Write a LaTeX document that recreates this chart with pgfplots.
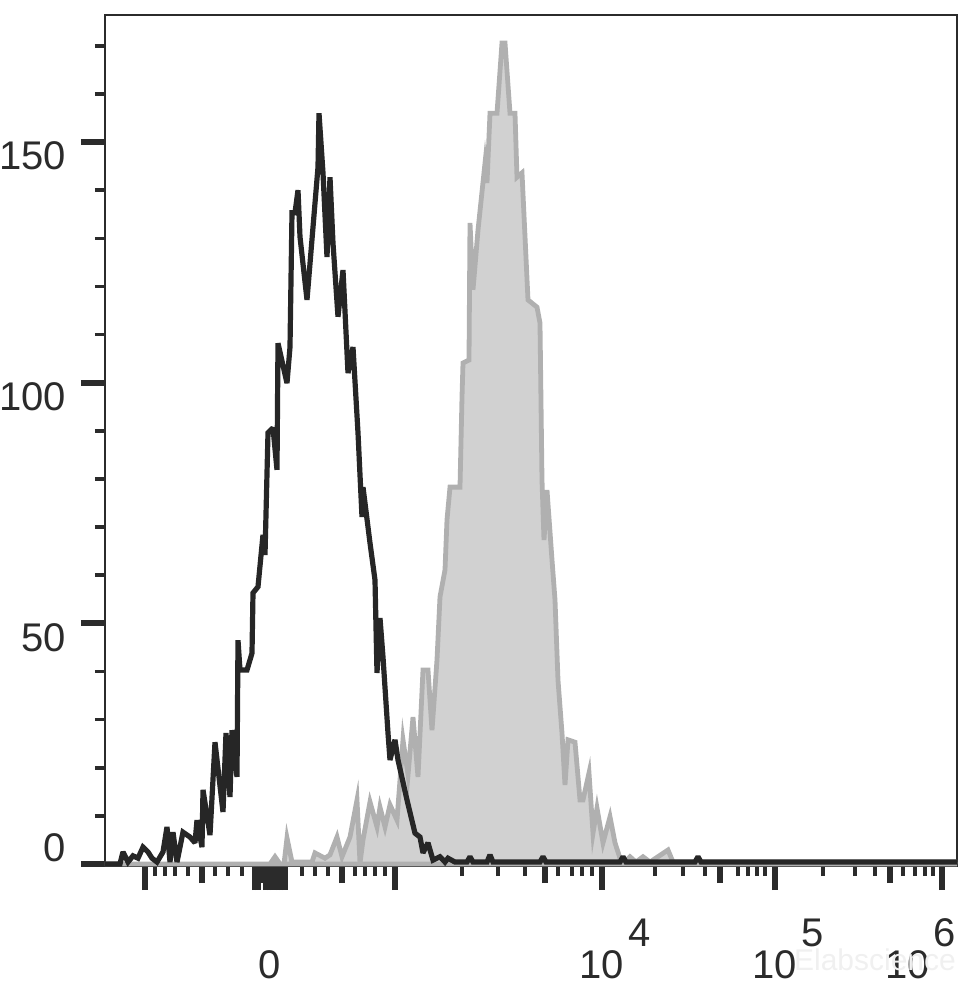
\documentclass[border=0pt]{standalone}
\usepackage{fontspec}
\setmainfont{Liberation Sans}
\usepackage{pgfplots}
\pgfplotsset{compat=1.18}
\definecolor{ax}{HTML}{2B2B2B}
\definecolor{grayfill}{HTML}{D1D1D1}
\definecolor{grayline}{HTML}{B0B0B0}
\definecolor{blk}{HTML}{262626}
\newcommand{\dec}[1]{10\rlap{\hspace{2pt}\raisebox{16pt}{#1}}}
\begin{document}
\begin{tikzpicture}
\begin{axis}[
  at={(0,0)}, anchor=south west,
  scale only axis, width=426pt, height=425.5pt,
  xmin=105, xmax=957, ymin=-0.42, ymax=176.4,
  axis line style={draw=ax, line width=1pt},
  tick align=outside,
  xtick pos=left, ytick pos=left,
  major tick length=12pt, minor tick length=5pt,
  major tick style={line width=3pt, draw=ax},
  minor tick style={line width=1.8pt, draw=ax},
  ytick={50,100,150}, yticklabels={50,100,150},
  minor ytick={10,20,30,40,60,70,80,90,110,120,130,140,160,170},
  extra y ticks={0}, extra y tick labels={0},
  extra y tick style={yticklabel style={yshift=15pt}},
  yticklabel style={font=\fontsize{20}{24}\selectfont, text=ax, yshift=-7pt, xshift=-4pt},
  xtick={145,255,258,266,270,273,279,282,285,395,602,775,942},
  xticklabels={,,,,0,,,,,,\dec{4},\dec{5},{\makebox[0pt][r]{10\hspace{6pt}}\rlap{\hspace{-4.5pt}\raisebox{16pt}{6}}}},
  minor xtick={155,165,175,188,215,228,242,302,315,328,355,365,375,385,462,498,525,558,572,582,592,655,683,705,738,748,757,765,823,855,875,903,915,925,933},
  extra x ticks={202,261,276,342,545,720,890},
  extra x tick labels={,,,,,,},
  extra x tick style={major tick length=8.5pt},
  xticklabel style={font=\fontsize{20}{24}\selectfont, text=ax, anchor=base, yshift=-44pt},
]
\addplot[draw=grayline, line width=2.4pt, fill=grayfill] coordinates {
(105,0)(270,0)(275,1.5)(280,0)(284,0)(287,5.4)(292,0.4)(312,0.4)(315,2.3)(325,1.2)(330,1.9)(337,5.6)(342,1.5)(350,5.6)(357,13.3)(360,0.2)(363,5.0)(370,12.9)(377,7.7)(380,11.8)(385,7.7)(390,12.3)(397,9.1)(403,25.8)(408,18.5)(413,30.5)(418,18.1)(423,40.3)(428,40.3)(432,27.8)(437,42.4)(440,55.5)(445,61.1)(447,71.5)(450,78.3)(460,78.3)(462,97.0)(463,104.1)(469,104.7)(470,133.2)(473,119.3)(478,131.7)(485,145.6)(487,141.5)(490,156.0)(497,156.0)(502,170.6)(505,170.6)(510,156.0)(515,156.0)(517,142.7)(522,143.6)(528,117.2)(537,115.7)(540,112.4)(542,79.8)(544,67.3)(547,77.7)(552,63.2)(555,54.9)(558,38.2)(562,27.2)(565,16.4)(568,25.8)(575,25.3)(580,13.3)(583,13.3)(589,18.9)(593,6.4)(597,11.6)(603,4.4)(610,9.8)(615,4.4)(620,1.2)(625,0.4)(630,1.5)(636,0.4)(643,1.5)(650,0.4)(668,2.9)(673,0.4)(957,0.4)
} \closedcycle;
\addplot[draw=blk, line width=2.6pt, line join=miter, miter limit=2] coordinates {
(105,0)(120,0)(123,2.5)(128,0.4)(133,1.7)(138,1.2)(143,3.5)(148,2.5)(152,1.2)(157,0.4)(163,2.5)(167,7.7)(170,0.4)(173,6.6)(177,0.4)(183,6.6)(190,5.6)(195,4.4)(197,9.1)(202,3.5)(203,15.4)(210,6.0)(215,25.3)(223,10.8)(226,27.2)(230,13.9)(232,27.8)(237,18.1)(238,46.5)(240,40.3)(247,40.3)(252,43.8)(253,56.3)(258,57.6)(263,68.4)(265,64.2)(268,89.6)(273,90.6)(277,81.9)(278,108.2)(287,99.9)(290,107.4)(292,135.3)(295,135.3)(298,140.0)(300,130.3)(307,117.2)(313,132.3)(318,144.8)(319,156.0)(323,143.6)(327,126.1)(330,142.7)(333,129.0)(338,113.7)(343,123.4)(348,102.0)(353,107.4)(358,89.6)(362,72.1)(363,78.3)(370,66.7)(375,59.0)(377,39.7)(380,51.1)(383,43.0)(388,27.2)(390,21.6)(395,25.8)(398,21.6)(407,13.3)(415,6.4)(420,5.6)(423,2.3)(428,4.4)(433,0.8)(440,1.5)(445,0.4)(448,1.2)(455,0.4)(467,0.4)(470,1.5)(473,0.4)(487,0.4)(490,1.9)(493,0.4)(540,0.4)(543,1.5)(546,0.4)(620,0.4)(623,1.5)(626,0.4)(695,0.4)(698,1.5)(701,0.4)(957,0.4)
};
\end{axis}
\node[text=black!6, font=\fontsize{15}{17}\selectfont] at (385pt,-47pt) {Elabscience};
\pgfresetboundingbox
\path (-52.5pt,-63pt) rectangle (432pt,433pt);
\end{tikzpicture}
\end{document}
